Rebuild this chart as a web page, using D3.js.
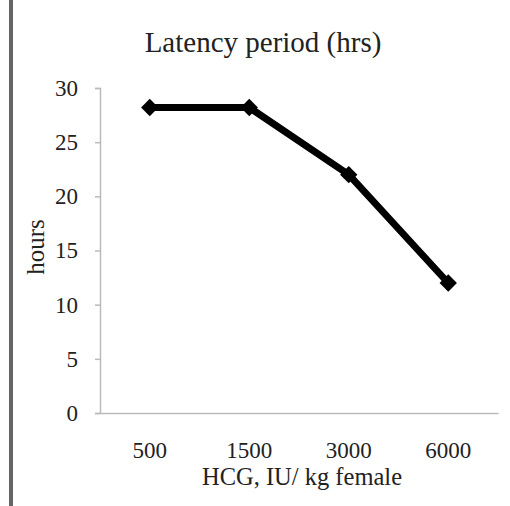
<!DOCTYPE html>
<html>
<head>
<meta charset="utf-8">
<script src="https://cdn.jsdelivr.net/npm/d3@7"></script>
<style>
  html, body { margin: 0; padding: 0; background: #fff; }
  svg { display: block; }
  text { font-family: "Liberation Serif", "DejaVu Serif", serif; fill: #222; }
</style>
</head>
<body>
<div id="chart"></div>
<script>
const doses = ['500', '1500', '3000', '6000'];
const latency = [28.2, 28.2, 22, 12];
const yTicks = [0, 5, 10, 15, 20, 25, 30];

(function() {
  'use strict';

  const width = 510,
        height = 506,
        margin = { top: 88, right: 12, bottom: 93, left: 100 };

  const svg = d3.select('#chart')
    .append('svg')
    .attr('width', width)
    .attr('height', height);

  // left page border
  svg.append('rect')
    .attr('x', 9).attr('y', 0)
    .attr('width', 4).attr('height', height)
    .attr('fill', '#666');

  const x = d3.scaleBand()
    .domain(doses)
    .range([margin.left, width - margin.right]);

  const y = d3.scaleLinear()
    .domain([0, 30])
    .range([height - margin.bottom, margin.top]);

  // y axis
  const yAxis = svg.append('g')
    .attr('transform', `translate(${margin.left},0)`)
    .call(d3.axisLeft(y).tickValues(yTicks).tickSize(5).tickPadding(17));
  yAxis.select('.domain').attr('stroke', '#bbb').attr('stroke-width', 1.5);
  yAxis.selectAll('.tick line').attr('stroke', '#bbb').attr('stroke-width', 1.5);
  yAxis.selectAll('.tick text')
    .attr('font-size', 23)
    .attr('font-family', '"Liberation Serif", serif')
    .attr('fill', '#333');

  // x axis
  const xAxis = svg.append('g')
    .attr('transform', `translate(0,${y(0)})`)
    .call(d3.axisBottom(x).tickSize(0).tickPadding(29));
  xAxis.select('.domain').attr('stroke', '#bbb').attr('stroke-width', 1.5);
  xAxis.selectAll('.tick text')
    .attr('font-size', 23)
    .attr('font-family', '"Liberation Serif", serif')
    .attr('fill', '#333');

  const cx = d => x(d) + x.bandwidth() / 2;

  // line
  const line = d3.line()
    .x((d, i) => cx(doses[i]))
    .y(d => y(d));

  svg.append('path')
    .datum(latency)
    .attr('fill', 'none')
    .attr('stroke', '#000')
    .attr('stroke-width', 7)
    .attr('stroke-linejoin', 'round')
    .attr('d', line);

  // diamond markers
  svg.selectAll('.marker')
    .data(latency)
    .enter()
    .append('path')
    .attr('class', 'marker')
    .attr('d', d3.symbol().type(d3.symbolSquare).size(150))
    .attr('transform', (d, i) => `translate(${cx(doses[i])},${y(d)}) rotate(45)`)
    .attr('fill', '#000');

  // title
  svg.append('text')
    .attr('x', 263).attr('y', 52)
    .attr('text-anchor', 'middle')
    .attr('font-size', 29)
    .attr('fill', '#333')
    .text('Latency period (hrs)');

  // axis titles
  svg.append('text')
    .attr('x', 302).attr('y', 485)
    .attr('text-anchor', 'middle')
    .attr('font-size', 24.5)
    .attr('fill', '#333')
    .text('HCG, IU/ kg female');

  svg.append('text')
    .attr('transform', 'translate(44,247) rotate(-90)')
    .attr('text-anchor', 'middle')
    .attr('font-size', 25)
    .attr('fill', '#333')
    .text('hours');
})();
</script>
</body>
</html>
